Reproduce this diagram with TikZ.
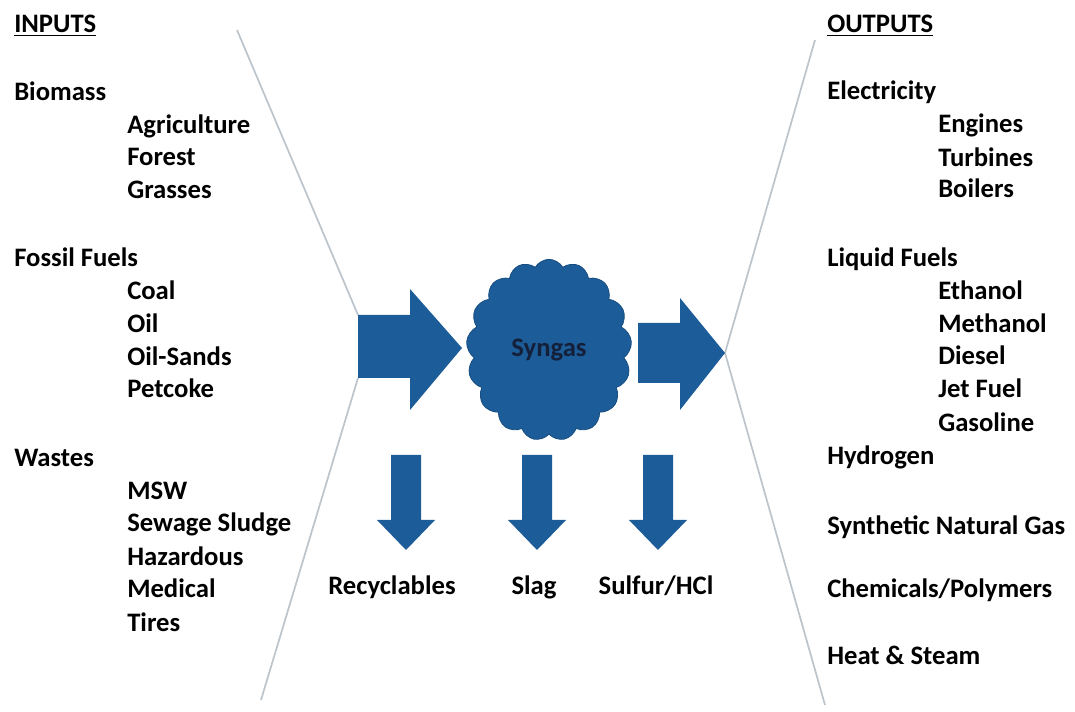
\documentclass[tikz,border=0pt]{standalone}
\usepackage{fontspec}
\setmainfont{Carlito}
\usetikzlibrary{positioning,shapes.symbols}

\definecolor{gasblue}{RGB}{28,92,152}
\definecolor{funnel}{RGB}{188,196,204}
\definecolor{syntext}{RGB}{20,32,58}

\begin{document}
\begin{tikzpicture} [x=0.75pt,y=-0.75pt,every node/.style={font=\fontsize{20}{24}\selectfont\bfseries,inner sep=0pt},listitem/.style={anchor=base west},outlabel/.style={anchor=base},blockarrow/.style={fill=gasblue},funnelline/.style={draw=funnel,line width=1.3pt}]

\useasboundingbox (0,0) rectangle (1075,712);

\newcommand{\droparrow}[2]{
	\fill[blockarrow] (#2-15,455) -- (#2+15,455) -- (#2+15,520) -- (#2+29,520) -- (#2,550) -- (#2-29,520) -- (#2-15,520) -- cycle;
	\coordinate (#1) at (#2,550);
}

% funnel
\coordinate (inTop) at (237,30);
\coordinate (inWaistA) at (358,315);
\coordinate (inWaistB) at (358,378);
\coordinate (inBot) at (261,700);
\coordinate (outTop) at (815,40);
\coordinate (outTip) at (725,353);
\coordinate (outBot) at (825,705);
\draw[funnelline] (inTop) -- (inWaistA);
\draw[funnelline] (inWaistB) -- (inBot);
\draw[funnelline] (outTop) -- (outTip) -- (outBot);

% headings
\node[listitem] (inputs) at (14,33) {\underline{INPUTS}};
\node[listitem] (outputs) at (827,33) {\underline{OUTPUTS}};

\foreach[count=\c] \x/\y/\t in {14/101/Biomass, 127/134/Agriculture, 127/166/Forest, 127/199/Grasses, 14/267/Fossil Fuels, 127/300/Coal, 127/333/Oil, 127/366/Oil-Sands, 127/398/Petcoke, 14/467/Wastes, 127/500/MSW, 127/532/Sewage Sludge, 127/566/Hazardous, 127/598/Medical, 127/632/Tires}{
	\node[listitem] (in\c) at (\x,\y) {\t};
}

\foreach[count=\c] \x/\y/\t in {827/100/Electricity, 938/133/Engines, 938/167/Turbines, 938/198/Boilers, 827/267/Liquid Fuels, 938/300/Ethanol, 938/333/Methanol, 938/365/Diesel, 938/398/Jet Fuel, 938/432/Gasoline, 827/465/Hydrogen, 827/535/Synthetic Natural Gas, 827/598/{Chemicals/Polymers}, 827/665/Heat \& Steam}{
	\node[listitem] (out\c) at (\x,\y) {\t};
}

% syngas
\fill[blockarrow] (inWaistA) -- (410,315) -- (410,289) -- (462,348) -- (410,410) -- (410,378) -- (inWaistB) -- cycle;
\node[cloud, cloud puffs=17, cloud puff arc=120, aspect=0.9, fill=gasblue, draw=gasblue!85!black, line width=0.6pt, minimum width=124pt, minimum height=136pt, text=syntext] (syngas) at (549,350) {Syngas};
\fill[blockarrow] (638,323) -- (680,323) -- (680,298) -- (outTip) -- (680,410) -- (680,383) -- (638,383) -- cycle;

\foreach \n/\cx/\lx/\t in {rec/406/392/Recyclables, slag/537/534/Slag, sulf/658/656/{Sulfur/HCl}}{
	\droparrow{\n}{\cx}
	\node[outlabel] (\n txt) at (\lx,595) {\t};
}

\end{tikzpicture}
\end{document}
